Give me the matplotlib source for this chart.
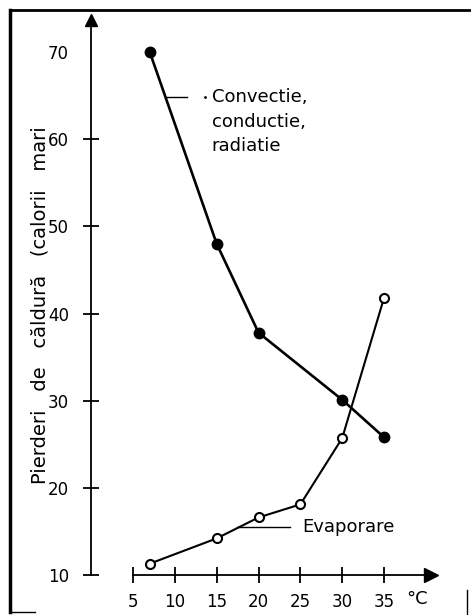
import matplotlib
matplotlib.use("Agg")
import matplotlib.pyplot as plt
from matplotlib.lines import Line2D

plt.rcParams['font.family'] = ['DejaVu Sans']

# data
temp_conv = [7, 15, 20, 30, 35]
loss_conv = [70, 48, 37.8, 30.1, 25.8]
temp_evap = [7, 15, 20, 25, 30, 35]
loss_evap = [11.3, 14.2, 16.6, 18.1, 25.7, 41.8]

xticks = [5, 10, 15, 20, 25, 30, 35]
yticks = [10, 20, 30, 40, 50, 60, 70]

fig = plt.figure(figsize=(4.71, 6.15), dpi=100)
ax = fig.add_axes([0.1936, 0.0367, 0.7994, 0.9496])
ax.set_xlim(0, 45)
ax.set_ylim(8, 75)

# axes drawn like the hand-made original
for s in ['top', 'right']:
    ax.spines[s].set_visible(False)
ax.spines['left'].set_position(('data', 0))
ax.spines['left'].set_bounds(10, 73)
ax.spines['bottom'].set_position(('data', 10))
ax.spines['bottom'].set_bounds(5, 40)
ax.spines['left'].set_linewidth(1.3)
ax.spines['bottom'].set_linewidth(1.3)
ax.plot([0], [73.7], marker='^', color='black', markersize=9, clip_on=False)
ax.plot([40.6], [10], marker='>', color='black', markersize=10, clip_on=False)

ax.set_xticks(xticks)
ax.set_xticklabels([str(t) for t in xticks])
ax.set_yticks(yticks)
ax.set_yticklabels([str(t) for t in yticks])
ax.tick_params(axis='both', direction='inout', length=12, width=1.3,
               labelsize=12, colors='black')
ax.tick_params(axis='y', pad=10)
ax.tick_params(axis='x', pad=7)
ax.yaxis.get_major_ticks()[-1].tick1line.set_visible(False)

# curves
ax.plot(temp_conv, loss_conv, color='black', linewidth=1.9,
        marker='o', markersize=7.5, markerfacecolor='black', clip_on=False)
ax.plot(temp_evap, loss_evap, color='black', linewidth=1.5,
        marker='o', markersize=6.5, markerfacecolor='white',
        markeredgewidth=1.5, clip_on=False)

# labels with leader lines
ax.plot([8.9, 11.4], [64.8, 64.8], color='black', linewidth=1)
ax.plot([13.6], [64.8], marker='.', color='black', markersize=2)
ax.text(14.4, 64.8, 'Convectie,', fontsize=13, va='center')
ax.text(14.4, 62.0, 'conductie,', fontsize=13, va='center')
ax.text(14.4, 59.2, 'radiatie', fontsize=13, va='center')

ax.plot([17.4, 23.8], [15.5, 15.5], color='black', linewidth=1)
ax.text(25.2, 15.5, 'Evaporare', fontsize=13, va='center')

ax.text(37.6, 7.2, '°C', fontsize=13, va='center')

fig.text(40 / 471, 1 - 305 / 615, 'Pierderi   de   căldură   (calorii   mari',
         rotation=90, fontsize=14, ha='center', va='center')

# frame from the scan
fig.add_artist(Line2D([10 / 471, 1], [1 - 10 / 615, 1 - 10 / 615],
                      color='black', linewidth=2))
fig.add_artist(Line2D([10 / 471, 10 / 471], [1 - 10 / 615, 1 - 612 / 615],
                      color='black', linewidth=2.5))
fig.add_artist(Line2D([10 / 471, 35 / 471], [1 - 612 / 615, 1 - 612 / 615],
                      color='black', linewidth=1))
fig.add_artist(Line2D([467 / 471, 467 / 471], [1 - 590 / 615, 0],
                      color='black', linewidth=1))

fig.savefig('out.png', dpi=100)
